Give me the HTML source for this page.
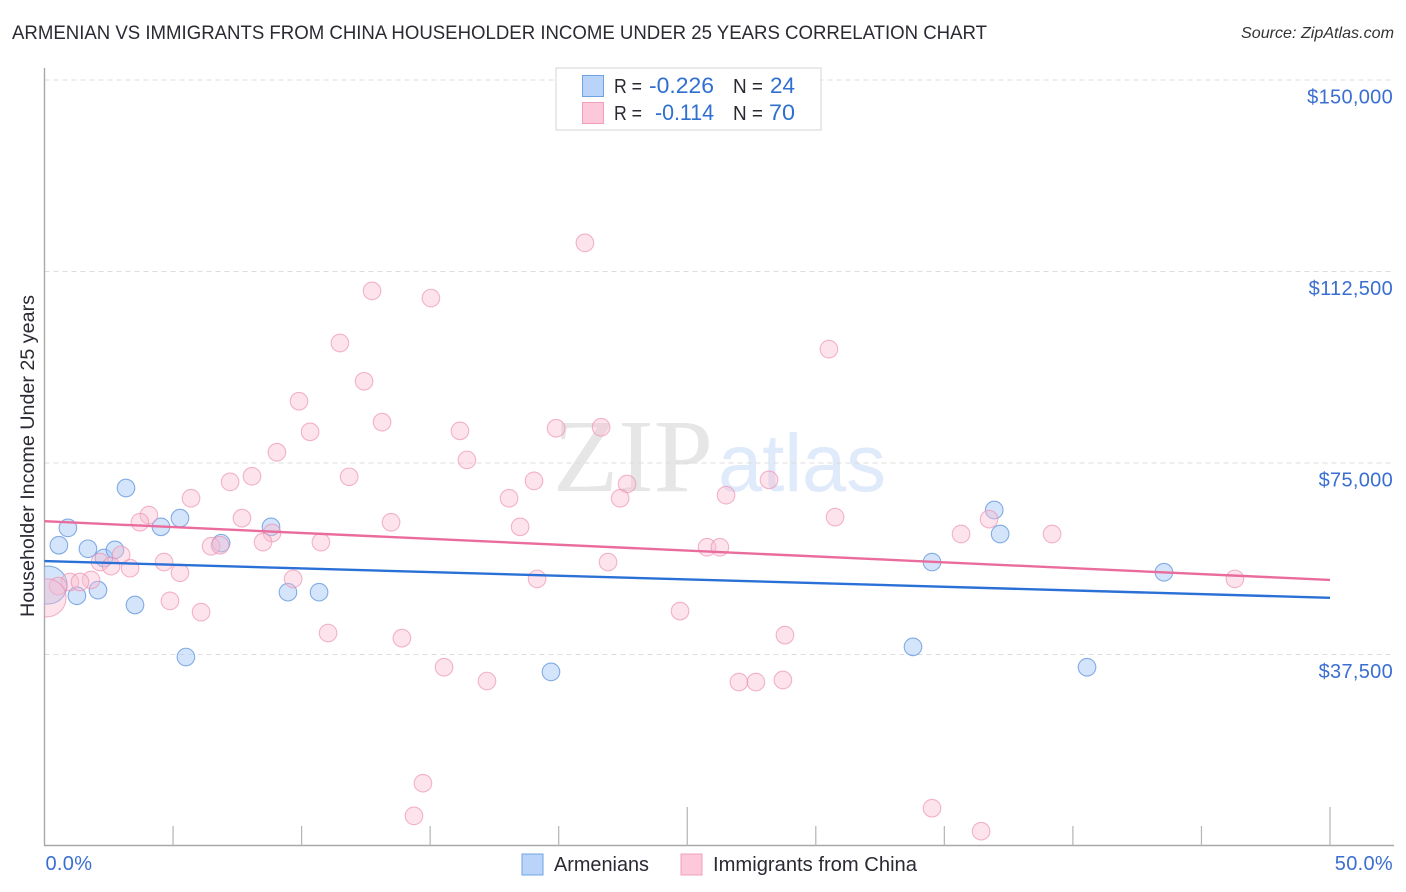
<!DOCTYPE html>
<html lang="en">
<head>
<meta charset="utf-8">
<title>Armenian vs Immigrants from China Householder Income Under 25 Years Correlation Chart</title>
<style>
html,body{margin:0;padding:0;background:#fff;}
body{width:1406px;height:892px;overflow:hidden;}
svg{display:block;font-family:"Liberation Sans",sans-serif;}
</style>
</head>
<body>
<svg id="chart" width="1406" height="892" viewBox="0 0 1406 892" xmlns="http://www.w3.org/2000/svg">
  <defs>
    <clipPath id="plot-clip"><rect x="44.5" y="60" width="1350" height="786"/></clipPath>
  </defs>
  <text x="12" y="39" font-size="19" fill="#2a2a33" textLength="975" lengthAdjust="spacingAndGlyphs">ARMENIAN VS IMMIGRANTS FROM CHINA HOUSEHOLDER INCOME UNDER 25 YEARS CORRELATION CHART</text>
  <text x="1394" y="38" font-size="16" font-style="italic" fill="#333" text-anchor="end" textLength="153" lengthAdjust="spacingAndGlyphs">Source: ZipAtlas.com</text>

  <g id="watermark">
    <text x="553" y="491" font-family="'Liberation Serif',serif" font-size="104" fill="#e6e6e6" textLength="160" lengthAdjust="spacingAndGlyphs">ZIP</text>
    <text x="718" y="491" font-size="82" fill="#dfeafa" textLength="168" lengthAdjust="spacingAndGlyphs">atlas</text>
  </g>

  <g id="grid"></g>
  <g id="axes"></g>
  <g id="points" clip-path="url(#plot-clip)"></g>
  <g id="trends"></g>
  <g id="tick-labels"></g>

  <text transform="translate(34,456) rotate(-90)" font-size="19.5" fill="#2a2a33" text-anchor="middle" textLength="322" lengthAdjust="spacingAndGlyphs">Householder Income Under 25 years</text>

  <g>
    <rect x="556" y="68" width="265" height="62" fill="#fff" fill-opacity="0.92" stroke="#dcdcdc" stroke-width="1.2"/>
    <rect x="582.5" y="75.5" width="21" height="21" fill="#b9d4f8" stroke="#6fa3e0"/>
    <rect x="582.5" y="102.5" width="21" height="21" fill="#fcc8da" stroke="#ef9fbb"/>
    <g font-size="20">
      <text x="614" y="93" fill="#2a2a33" textLength="28" lengthAdjust="spacingAndGlyphs">R =</text>
      <text x="649" y="93" fill="#2f6fd0" font-size="22" textLength="65" lengthAdjust="spacingAndGlyphs">-0.226</text>
      <text x="733" y="93" fill="#2a2a33" textLength="30" lengthAdjust="spacingAndGlyphs">N =</text>
      <text x="770" y="93" fill="#2f6fd0" font-size="22" textLength="25" lengthAdjust="spacingAndGlyphs">24</text>
      <text x="614" y="120" fill="#2a2a33" textLength="28" lengthAdjust="spacingAndGlyphs">R =</text>
      <text x="655" y="120" fill="#2f6fd0" font-size="22" textLength="59" lengthAdjust="spacingAndGlyphs">-0.114</text>
      <text x="733" y="120" fill="#2a2a33" textLength="30" lengthAdjust="spacingAndGlyphs">N =</text>
      <text x="769" y="120" fill="#2f6fd0" font-size="22" textLength="26" lengthAdjust="spacingAndGlyphs">70</text>
    </g>
  </g>

  <g>
    <rect x="522" y="854" width="21" height="21" fill="#b9d4f8" stroke="#6fa3e0"/>
    <text x="554" y="871" font-size="20" fill="#2a2a33" textLength="95" lengthAdjust="spacingAndGlyphs">Armenians</text>
    <rect x="681" y="854" width="21" height="21" fill="#fcc8da" stroke="#ef9fbb"/>
    <text x="713" y="871" font-size="20" fill="#2a2a33" textLength="204" lengthAdjust="spacingAndGlyphs">Immigrants from China</text>
  </g>
</svg>
<script>
var armeniansX = [3.17,0.91,0.56,1.69,2.31,2.74,3.52,2.08,1.26,4.53,5.27,5.50,6.87,8.81,9.47,10.68,19.70,33.78,34.52,36.94,37.17,40.55,43.54,0.14];
var armeniansY = [70100,62300,58900,58200,56400,58000,47200,50100,49000,62500,64200,37000,59300,62500,49700,49700,34100,39000,55600,65800,61100,35000,53600,51100];
var armeniansSize = [1,1,1,1,1,1,1,1,1,1,1,1,1,1,1,1,1,1,1,1,1,1,1,2];

var immigrantsX = [21.02,12.74,15.03,11.49,30.51,12.43,9.90,13.13,10.33,16.16,19.90,21.65,16.43,9.04,8.07,7.22,11.85,19.04,22.66,28.18,26.51,22.39,18.07,5.70,4.06,3.71,7.68,13.48,18.50,30.75,36.74,8.85,8.50,10.75,6.48,6.83,35.65,39.19,25.77,26.27,2.98,2.16,2.59,3.33,4.65,5.27,21.92,9.67,19.16,46.30,1.81,0.99,1.38,0.53,0.10,4.88,6.09,24.72,11.03,13.90,28.80,15.54,17.21,27.01,27.67,28.72,14.72,14.37,34.52,36.43];
var immigrantsY = [118100,108700,107300,98500,97300,91000,87100,83000,81100,81300,81800,82000,75600,77100,72400,71300,72300,71500,70900,71700,68700,68100,68100,68100,64800,63400,64200,63400,62500,64400,64000,61300,59500,59500,58700,58900,61100,61100,58500,58500,57000,55600,54800,54400,55600,53500,55600,52300,52300,52300,52100,51700,51700,50900,48600,48000,45800,46000,41700,40700,41300,35000,32300,32100,32100,32500,12300,5900,7400,2900];
var immigrantsSize = [1,1,1,1,1,1,1,1,1,1,1,1,1,1,1,1,1,1,1,1,1,1,1,1,1,1,1,1,1,1,1,1,1,1,1,1,1,1,1,1,1,1,1,1,1,1,1,1,1,1,1,1,1,1,2,1,1,1,1,1,1,1,1,1,1,1,1,1,1,1];

var trendPctEnds = [0,50];
var armeniansTrend = [55800,48600];
var immigrantsTrend = [63600,52100];

var yTickValues = [37500,75000,112500,150000];
var yTickLabels = ['$37,500','$75,000','$112,500','$150,000'];
var xTickValues = [5,10,15,20,25,30,35,40,45,50];
var xMajorTicks = [25,50];
var xEndValues = [0,50];
var xEndLabels = ['0.0%','50.0%'];

function xScale(v){ return 44.5 + v * (1330 - 44.5) / 50; }
function yScale(v){ return 846 - v * (846 - 80) / 150000; }

var NS = 'http://www.w3.org/2000/svg';
function make(tag, parentId, attrs){
  var el = document.createElementNS(NS, tag);
  for (var k in attrs) el.setAttribute(k, attrs[k]);
  document.getElementById(parentId).appendChild(el);
  return el;
}

yTickValues.forEach(function(v, i){
  var g = make('line', 'grid', {x1:44.5, x2:1394, y1:yScale(v), y2:yScale(v), stroke:'#dcdcdc', 'stroke-width':1, 'stroke-dasharray':'5 4'});
  
  
  var t = make('text', 'tick-labels', {x:1393, y:yScale(v) + 23.5, 'font-size':20, 'letter-spacing':0.3, fill:'#3a6fd1', 'text-anchor':'end'});
  t.textContent = yTickLabels[i];
  
  
});

var yAxis = make('line', 'axes', {x1:44.5, x2:44.5, y1:68, y2:846, stroke:'#a8a8a8', 'stroke-width':1.4});


var xAxis = make('line', 'axes', {x1:44, x2:1394, y1:845.5, y2:845.5, stroke:'#a8a8a8', 'stroke-width':1.4});



xTickValues.forEach(function(v){
  var top = xMajorTicks.indexOf(v) >= 0 ? 807 : 826;
  var tick = make('line', 'axes', {x1:xScale(v), x2:xScale(v), y1:top, y2:845.5, stroke:'#b4b4b4', 'stroke-width':1.2});
  
  
});

xEndValues.forEach(function(v, i){
  var first = i === 0;
  var t = make('text', 'tick-labels', {x:first ? xScale(v) + 1 : 1393, y:870, 'font-size':20, 'letter-spacing':0.3, fill:'#3a6fd1', 'text-anchor':first ? 'start' : 'end'});
  t.textContent = xEndLabels[i];
  
  
});

function radius(s){ return s === 2 ? 19 : 8.8; }

armeniansX.forEach(function(v, i){
  var c = make('circle', 'points', {cx:xScale(v), cy:yScale(armeniansY[i]), r:radius(armeniansSize[i]), fill:'#a9caf5', 'fill-opacity':0.5, stroke:'#5f94dc', 'stroke-opacity':0.75, 'stroke-width':1.1});
  
  
});

immigrantsX.forEach(function(v, i){
  var c = make('circle', 'points', {cx:xScale(v), cy:yScale(immigrantsY[i]), r:radius(immigrantsSize[i]), fill:'#f9bcd1', 'fill-opacity':0.42, stroke:'#ec8fb0', 'stroke-opacity':0.65, 'stroke-width':1.1});
  
  
});

var blueLine = make('line', 'trends', {x1:xScale(trendPctEnds[0]), x2:xScale(trendPctEnds[1]), y1:yScale(armeniansTrend[0]), y2:yScale(armeniansTrend[1]), stroke:'#2a70d6', 'stroke-width':2.4});


var pinkLine = make('line', 'trends', {x1:xScale(trendPctEnds[0]), x2:xScale(trendPctEnds[1]), y1:yScale(immigrantsTrend[0]), y2:yScale(immigrantsTrend[1]), stroke:'#ea6c9c', 'stroke-width':2.4});


</script>
</body>
</html>
